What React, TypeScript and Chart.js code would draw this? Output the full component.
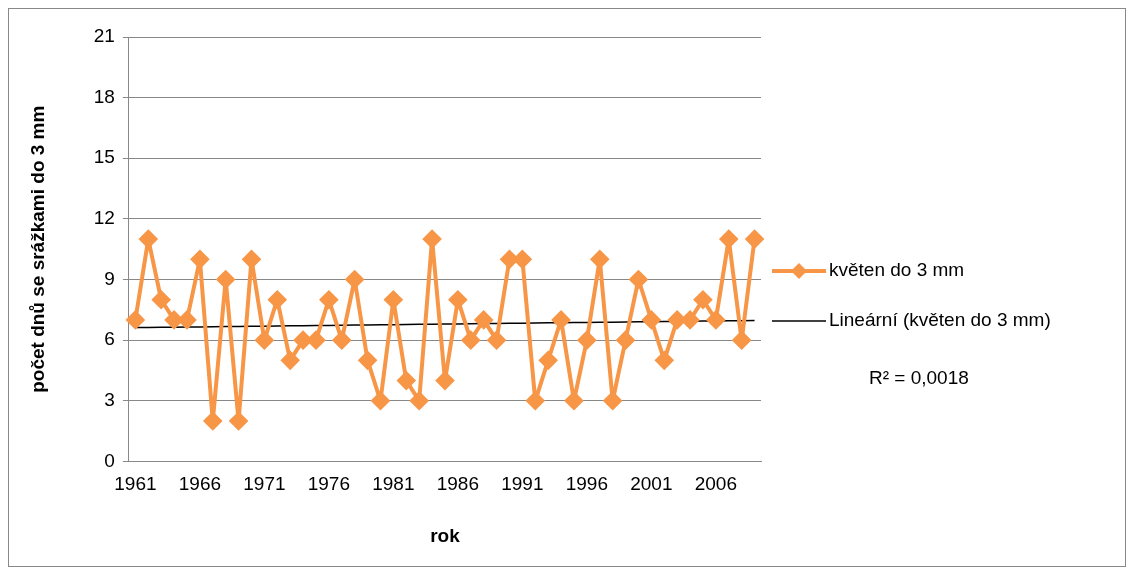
import React, { useEffect, useRef } from 'react';
import { Chart, registerables } from 'chart.js';

Chart.register(...registerables);

const years: number[] = [];
for (let y = 1961; y <= 2009; y++) years.push(y);

const days = [7, 11, 8, 7, 7, 10, 2, 9, 2, 10, 6, 8, 5, 6, 6, 8, 6, 9, 5, 3, 8, 4, 3, 11, 4, 8, 6, 7, 6, 10,
  10, 3, 5, 7, 3, 6, 10, 3, 6, 9, 7, 5, 7, 7, 8, 7, 11, 6, 11];

const seriesName = 'květen do 3 mm';
const trendName = 'Lineární (květen do 3 mm)';
const r2Label = 'R² = 0,0018';

// least-squares trend of the series
function trend(v: number[]) {
  const n = v.length;
  const mx = (n - 1) / 2;
  const my = v.reduce((a, b) => a + b, 0) / n;
  let sxy = 0, sxx = 0;
  v.forEach((y, i) => { sxy += (i - mx) * (y - my); sxx += (i - mx) ** 2; });
  const b = sxy / sxx;
  return v.map((_, i) => my + b * (i - mx));
}

const FONT = '"Liberation Sans", "DejaVu Sans", sans-serif';

const legendPlugin = {
  id: 'sideLegend',
  afterDraw(chart: Chart) {
    const ctx = chart.ctx;
    ctx.save();
    ctx.font = `19px ${FONT}`;
    ctx.fillStyle = '#000';
    ctx.textBaseline = 'middle';
    ctx.strokeStyle = '#F79646';
    ctx.lineWidth = 4;
    ctx.beginPath(); ctx.moveTo(763, 262); ctx.lineTo(817, 262); ctx.stroke();
    ctx.fillStyle = '#F79646';
    ctx.beginPath();
    ctx.moveTo(790, 254); ctx.lineTo(798, 262); ctx.lineTo(790, 270); ctx.lineTo(782, 262); ctx.closePath(); ctx.fill();
    ctx.fillStyle = '#000';
    ctx.fillText(seriesName, 820, 262);
    ctx.strokeStyle = '#000';
    ctx.lineWidth = 1.5;
    ctx.beginPath(); ctx.moveTo(763, 312); ctx.lineTo(817, 312); ctx.stroke();
    ctx.fillText(trendName, 820, 312);
    ctx.fillText(r2Label, 860, 370);
    ctx.restore();
  },
};

export default function App() {
  const ref = useRef<HTMLCanvasElement>(null);
  useEffect(() => {
    if (!ref.current) return;
    const chart = new Chart(ref.current, {
      type: 'line',
      data: {
        labels: years.map(String),
        datasets: [
          {
            label: seriesName,
            data: days,
            borderColor: '#F79646',
            backgroundColor: '#F79646',
            borderWidth: 4,
            borderJoinStyle: 'round',
            pointStyle: 'rectRot',
            pointRadius: 7,
            tension: 0,
          },
          {
            label: trendName,
            data: trend(days),
            borderColor: '#000',
            borderWidth: 1.5,
            pointRadius: 0,
          },
        ],
      },
      options: {
        animation: false,
        responsive: false,
        layout: { padding: { left: 14, right: 364, top: 28, bottom: 14 } },
        plugins: { legend: { display: false }, tooltip: { enabled: false } },
        scales: {
          x: {
            offset: true,
            grid: { display: false, drawTicks: true, tickLength: 6, color: '#888' },
            border: { color: '#888' },
            ticks: {
              autoSkip: false,
              maxRotation: 0,
              color: '#000',
              padding: 6,
              font: { family: FONT, size: 19 },
              callback: (_v, i) => (i % 5 === 0 ? years[i] : ''),
            },
            title: { display: true, text: 'rok', color: '#000', padding: { top: 23 }, font: { family: FONT, size: 19, weight: 'bold' } },
          },
          y: {
            min: 0,
            max: 21,
            ticks: { stepSize: 3, color: '#000', font: { family: FONT, size: 19 }, padding: 8 },
            grid: { color: '#888', tickLength: 6 },
            border: { color: '#888' },
            title: {
              display: true,
              text: 'počet dnů se srážkami do 3 mm',
              color: '#000',
              padding: { bottom: 36 },
              font: { family: FONT, size: 19, weight: 'bold' },
            },
          },
        },
      },
      plugins: [legendPlugin],
    });
    return () => chart.destroy();
  }, []);
  return (
    <div style={{ width: 1116, height: 557, border: '1px solid #888', background: '#fff' }}>
      <canvas ref={ref} width={1116} height={557} style={{ display: 'block' }} />
    </div>
  );
}
